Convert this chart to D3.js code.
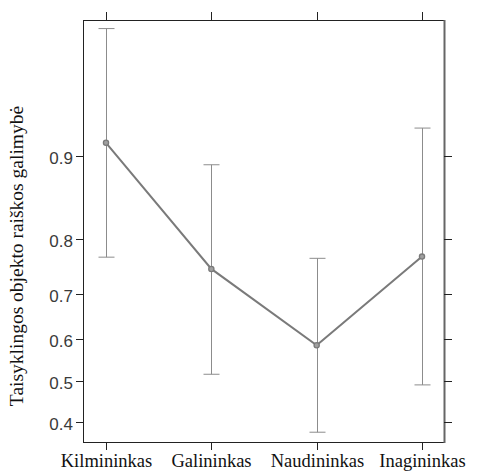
<!DOCTYPE html>
<html><head><meta charset="utf-8">
<script src="https://cdn.jsdelivr.net/npm/d3@7"></script>
</head><body style="margin:0;background:#fff">
<svg id="c" width="486" height="471"></svg>
<script>
const categories = ["Kilmininkas", "Galininkas", "Naudininkas", "Inagininkas"];
const fit   = [0.911, 0.749, 0.586, 0.771];
const lower = [0.770, 0.516, 0.377, 0.490];
const upper = [0.969, 0.892, 0.768, 0.922];
const yTicks = [0.4, 0.5, 0.6, 0.7, 0.8, 0.9];
const yLabel = "Taisyklingos objekto raiškos galimybė";

const SERIF = "Liberation Serif";
const SANS = "Liberation Sans";
const logit = p => Math.log(p / (1 - p));
const svg = d3.select("#c");
const L = 83, T = 20, R = 444, B = 442;

const x = d3.scalePoint().domain(categories).range([106, 422]);
const yl = d3.scaleLinear().domain([-0.598, 3.526]).range([B, T]);
const y = p => yl(logit(p));

svg.append("rect").attr("x", L + 0.5).attr("y", T + 0.5).attr("width", R - L).attr("height", B - T)
  .attr("fill", "none").attr("stroke", "#222").attr("stroke-width", 1);
svg.append("line").attr("x1", R + 0.5).attr("x2", R + 0.5).attr("y1", T).attr("y2", B + 1)
  .attr("stroke", "#666").attr("stroke-width", 2);

yTicks.forEach(t => {
  const yy = Math.round(y(t)) + 0.5;
  svg.append("line").attr("x1", L - 7).attr("x2", L).attr("y1", yy).attr("y2", yy).attr("stroke", "#222");
  svg.append("line").attr("x1", R).attr("x2", R + 8).attr("y1", yy).attr("y2", yy).attr("stroke", "#222");
  svg.append("text").attr("font-family", SANS).style("font-family", `"${SANS}"`)
    .attr("x", L - 10).attr("y", yy + 7).attr("text-anchor", "end")
    .attr("font-size", 17).attr("fill", "#3a3a3a").text(t.toFixed(1));
});

categories.forEach(c => {
  const xx = Math.round(x(c)) + 0.5;
  svg.append("line").attr("x1", xx).attr("x2", xx).attr("y1", B).attr("y2", B + 8).attr("stroke", "#222");
  svg.append("line").attr("x1", xx).attr("x2", xx).attr("y1", T - 8).attr("y2", T).attr("stroke", "#222");
  svg.append("text").attr("font-family", SERIF).style("font-family", `"${SERIF}"`)
    .attr("x", xx).attr("y", 467).attr("text-anchor", "middle")
    .attr("font-size", 18.5).attr("fill", "#111").text(c);
});

categories.forEach((c, i) => {
  const xx = Math.round(x(c)) + 0.5;
  const g = svg.append("g").attr("stroke", "#8c8c8c").attr("stroke-width", 1);
  g.append("line").attr("x1", xx).attr("x2", xx).attr("y1", y(lower[i])).attr("y2", y(upper[i]));
  g.append("line").attr("x1", xx - 8).attr("x2", xx + 8).attr("y1", y(lower[i])).attr("y2", y(lower[i]));
  g.append("line").attr("x1", xx - 8).attr("x2", xx + 8).attr("y1", y(upper[i])).attr("y2", y(upper[i]));
});

const line = d3.line().x((d, i) => x(categories[i])).y(d => y(d));
svg.append("path").datum(fit).attr("d", line).attr("fill", "none")
  .attr("stroke", "#7a7a7a").attr("stroke-width", 2);
svg.selectAll("circle.pt").data(fit).enter().append("circle")
  .attr("cx", (d, i) => x(categories[i])).attr("cy", d => y(d)).attr("r", 2.6)
  .attr("fill", "#a0a0a0").attr("stroke", "#7a7a7a").attr("stroke-width", 1.3);

svg.append("text").attr("font-family", SERIF).style("font-family", `"${SERIF}"`)
  .attr("transform", "translate(23,256) rotate(-90)")
  .attr("text-anchor", "middle").attr("font-size", 19.5).attr("fill", "#111").text(yLabel);
</script>
</body></html>
